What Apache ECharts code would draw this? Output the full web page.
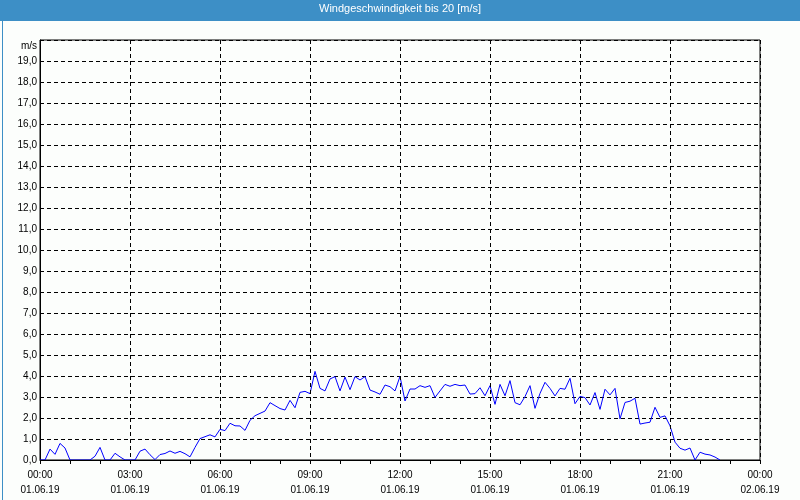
<!DOCTYPE html>
<html>
<head>
<meta charset="utf-8">
<script src="https://cdn.jsdelivr.net/npm/echarts@6/dist/echarts.min.js"></script>
<style>
html,body{margin:0;padding:0;background:#fcfefc;}
#chart{width:800px;height:500px;}
</style>
</head>
<body>
<div id="chart"></div>
<script>
// Wind speed [m/s], one reading every 10 minutes starting 01.06.19 00:00
var sampleMinutes = 10;
var windSpeed = [
  0, 0, 0.52, 0.27, 0.79, 0.57, 0, 0, 0, 0,
  0, 0.18, 0.6, 0, 0, 0.32, 0.15, 0, 0, 0,
  0.42, 0.52, 0.25, 0.02, 0.26, 0.31, 0.43, 0.32, 0.41, 0.3,
  0.15, 0.6, 1.02, 1.11, 1.2, 1.1, 1.46, 1.4, 1.75, 1.63,
  1.62, 1.41, 1.89, 2.11, 2.22, 2.33, 2.73, 2.59, 2.45, 2.38,
  2.84, 2.49, 3.22, 3.27, 3.16, 4.22, 3.41, 3.29, 3.86, 3.97,
  3.29, 3.95, 3.35, 3.97, 3.81, 3.97, 3.33, 3.24, 3.13, 3.57,
  3.49, 3.29, 3.98, 2.81, 3.38, 3.38, 3.54, 3.46, 3.54, 2.98,
  3.29, 3.6, 3.51, 3.6, 3.54, 3.57, 3.14, 3.16, 3.44, 3.06,
  3.54, 2.65, 3.6, 3.06, 3.78, 2.73, 2.63, 3.02, 3.54, 2.46,
  3.17, 3.7, 3.41, 3.05, 3.41, 3.37, 3.89, 2.68, 3.03, 2.97,
  2.62, 3.21, 2.41, 3.37, 3.1, 3.41, 1.96, 2.74, 2.8, 2.94,
  1.71, 1.76, 1.8, 2.51, 2.03, 2.1, 1.63, 0.85, 0.56, 0.47,
  0.57, 0, 0.37, 0.28, 0.24, 0.14, 0
];
var xTickHours = [0, 3, 6, 9, 12, 15, 18, 21, 24];
var xTickTimes = ['00:00','03:00','06:00','09:00','12:00','15:00','18:00','21:00','00:00'];
var xTickDates = ['01.06.19','01.06.19','01.06.19','01.06.19','01.06.19','01.06.19','01.06.19','01.06.19','02.06.19'];
var titleText = 'Windgeschwindigkeit bis 20 [m/s]';
var unitText = 'm/s';

var seriesData = windSpeed.map(function (v, i) { return [i * sampleMinutes / 60, v]; });
var FONT = 'Liberation Sans';

var chart = echarts.init(document.getElementById('chart'), null, {renderer: 'canvas'});
chart.setOption({
  backgroundColor: '#fcfefc',
  animation: false,
  graphic: [
    {type: 'rect', left: 0, top: 0, z: -1, shape: {width: 800, height: 21}, style: {fill: '#3d8fc6'}},
    {type: 'rect', left: 0, top: 0, z: 100, shape: {x: 0.5, y: 0.5, width: 799, height: 499}, style: {fill: 'none', stroke: '#3d8fc6', lineWidth: 1}}
  ],
  title: {
    text: titleText, left: 'center', top: 3, padding: 0,
    textStyle: {color: '#ffffff', fontFamily: FONT, fontSize: 11, fontWeight: 'normal'}
  },
  grid: {left: 40, right: 40, top: 40, bottom: 40, show: true, borderColor: '#000', borderWidth: 1, backgroundColor: 'transparent'},
  xAxis: {
    type: 'value', min: 0, max: 24, interval: 3, z: 3,
    axisLine: {lineStyle: {color: '#000', width: 1}},
    axisTick: {show: true, length: 4, lineStyle: {color: '#000'}},
    minorTick: {show: true, splitNumber: 3, length: 4, lineStyle: {color: '#000'}},
    splitLine: {show: true, lineStyle: {color: '#000', type: [4, 3], width: 1}},
    axisLabel: {
      margin: 8, color: '#000', fontFamily: FONT, fontSize: 10, lineHeight: 15,
      formatter: function (v) {
        var k = xTickHours.indexOf(v);
        return k < 0 ? '' : xTickTimes[k] + '\n' + xTickDates[k];
      }
    }
  },
  yAxis: {
    type: 'value', min: 0, max: 20, interval: 1,
    name: unitText, nameLocation: 'end', nameGap: 0,
    nameTextStyle: {color: '#000', fontFamily: FONT, fontSize: 10, align: 'right', verticalAlign: 'top', padding: [1, 3, 0, 0]},
    axisLine: {show: true, lineStyle: {color: '#000', width: 1}},
    axisTick: {show: false},
    splitLine: {show: true, lineStyle: {color: '#000', type: [4, 3], width: 1}},
    axisLabel: {
      margin: 3, color: '#000', fontFamily: FONT, fontSize: 10,
      formatter: function (v) { return v >= 20 ? '' : v.toFixed(1).replace('.', ','); }
    }
  },
  series: [{
    type: 'line', data: seriesData, showSymbol: false, symbol: 'none',
    lineStyle: {color: '#0000ff', width: 1}, z: 2
  }]
});
</script>
</body>
</html>
